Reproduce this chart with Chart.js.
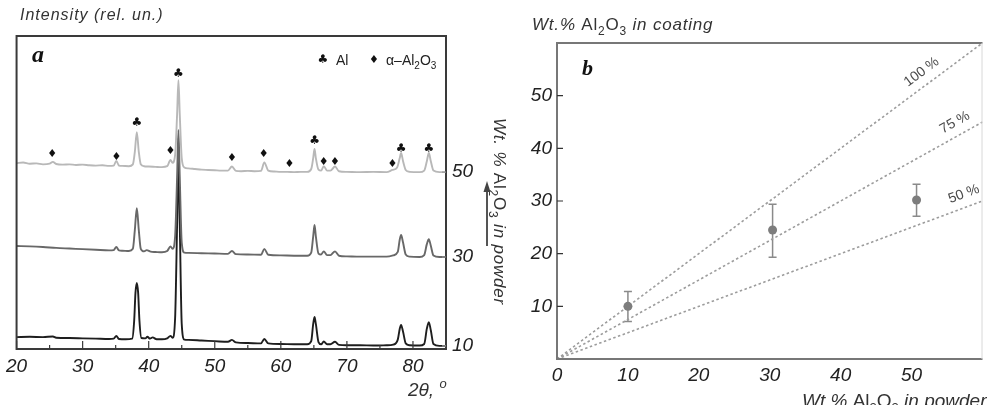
<!DOCTYPE html>
<html>
<head>
<meta charset="utf-8">
<script src="https://cdn.jsdelivr.net/npm/chart.js"></script>
<style>
  body { margin: 0; background: #fff; }
  #wrap { position: relative; width: 987px; height: 405px; overflow: hidden; }
  canvas { position: absolute; top: 0; }
  #chartXrd { left: 0; }
  #chartRatio { left: 505px; }
</style>
</head>
<body>
<div id="wrap">
  <canvas id="chartXrd" width="520" height="405"></canvas>
  <canvas id="chartRatio" width="482" height="405"></canvas>
</div>
<script>
// ---- panel a : XRD patterns (2theta, relative intensity with vertical offset) ----
const xrd50 = [[20,59.4],[21,59.6],[22,59.2],[23,59.3],[24,59.0],[25,59.2],[25.5,59.8],[26,59.1],[27,58.9],[28,59.0],[29,58.8],[30,58.9],[31,58.7],[32,58.6],[33,58.7],[34,58.5],[34.7,58.6],[35.1,60.1],[35.5,58.6],[36,58.5],[37,58.4],[37.6,59],[37.9,63],[38.2,69.3],[38.5,63],[38.8,59],[39.3,58.4],[40,58.3],[41,58.2],[42,58.1],[42.8,58.4],[43.3,60.4],[43.6,59.5],[44.0,62],[44.3,75],[44.5,85.9],[44.7,75],[45.0,61],[45.4,58],[46,57.7],[47,57.5],[48,57.3],[49,57.2],[50,57.1],[51,57.0],[52,57.0],[52.6,58.3],[53.2,56.9],[54,56.8],[55,56.9],[56,56.8],[57,56.9],[57.5,59.6],[58.1,57],[59,56.7],[60,56.6],[61,56.6],[62,56.5],[63,56.6],[64,56.6],[64.6,57.5],[64.9,61],[65.1,63.9],[65.3,61],[65.7,57.3],[66.1,57],[66.5,58.4],[67,57],[67.5,57],[68.2,58.3],[68.8,56.8],[70,56.6],[72,56.5],[74,56.6],[76,56.5],[76.9,57.2],[77.6,58],[78,61],[78.2,62.6],[78.5,60],[78.9,57.2],[79.5,56.6],[81,56.5],[81.7,57],[82.1,60],[82.4,62.6],[82.7,60],[83.1,57],[84,56.5],[85,56.5]];
const xrd30 = [[20,32.9],[22,32.8],[24,32.6],[26,32.3],[28,32.1],[30,31.9],[32,31.7],[34,31.5],[34.7,31.6],[35.1,32.6],[35.5,31.5],[36,31.4],[37,31.3],[37.6,32],[37.9,38],[38.2,45.0],[38.5,38],[38.8,32],[39.3,31.2],[39.7,31.6],[40.3,31.1],[41,31.0],[42,30.9],[42.8,31.3],[43.3,32.8],[43.6,32],[44.0,36],[44.3,55],[44.5,70],[44.7,55],[45.0,34],[45.4,30.8],[46,30.7],[48,30.6],[50,30.5],[52,30.4],[52.6,31.3],[53.2,30.3],[55,30.2],[57,30.1],[57.5,32],[58.1,30.1],[60,29.9],[62,29.8],[64,29.8],[64.6,30.8],[64.9,36],[65.1,39.6],[65.3,36],[65.7,30.5],[66.1,30.2],[66.5,31.2],[67,30],[67.5,30],[68.2,31.2],[68.8,29.8],[70,29.6],[72,29.5],[74,29.5],[76,29.5],[77,29.9],[77.7,31],[78,35],[78.2,36.4],[78.5,34],[78.9,30.2],[79.5,29.5],[81,29.4],[81.7,30],[82.1,33.5],[82.4,35.1],[82.7,33],[83.1,29.9],[84,29.4],[85,29.4]];
const xrd10 = [[20,3.8],[22,3.9],[24,3.8],[25.5,4.0],[26,3.6],[28,3.5],[30,3.4],[32,3.3],[34,3.2],[34.7,3.3],[35.1,4.2],[35.5,3.2],[36.5,3.1],[37.5,3.3],[37.8,9],[38.0,18],[38.2,21.1],[38.4,18],[38.6,9],[38.9,3.5],[39.5,3.4],[39.8,3.9],[40.2,3.3],[40.6,3.7],[41.2,3.1],[42,3.1],[42.8,3.4],[43.3,4.2],[43.6,3.6],[44.0,10],[44.3,40],[44.5,61.0],[44.7,40],[45.0,8],[45.4,3.0],[46,2.9],[48,2.7],[50,2.5],[52,2.3],[52.6,2.9],[53.2,2.1],[55,1.9],[57,1.8],[57.5,3.2],[58.1,1.8],[60,1.6],[62,1.5],[64,1.5],[64.6,2.5],[64.9,8],[65.1,10.2],[65.3,8],[65.7,2.2],[66.1,1.5],[66.5,2.4],[67,1.5],[67.5,1.5],[68.2,2.3],[68.8,1.3],[70,1.2],[72,1.2],[74,1.1],[76,1.2],[77,1.4],[77.7,3],[78,6.5],[78.2,7.7],[78.5,5.5],[78.9,1.8],[79.5,1.2],[81,1.1],[81.7,1.6],[82.1,6.5],[82.4,8.6],[82.7,6],[83.1,1.6],[84,1.0],[85,1.0]];
const xrdTraces = [xrd50, xrd30, xrd10];
const traceLabels = ['50', '30', '10'];
const traceColors = ['#b8b8b8', '#686868', '#1e1e1e'];
const xrdTicks = [20, 30, 40, 50, 60, 70, 80];
const xrdMinorTicks = [25, 35, 45, 55, 65, 75, 85];
// phase markers: [2theta, height]
const alPeaks = [[38.2,72.2],[44.5,87.9],[65.1,66.5],[78.2,63.9],[82.4,63.9]];
const aluminaPeaks = [[25.4,62.3],[35.1,61.3],[43.3,63.3],[52.6,61.0],[57.4,62.3],[61.3,59.1],[66.5,59.7],[68.2,59.7],[76.9,59.1]];

// ---- panel b : Al2O3 content in coating vs powder ----
const powderPct = [10, 30.4, 50.7];
const coatingPct = [10, 24.5, 30.2];
const errLow = [7.1, 19.3, 27.1];
const errHigh = [12.8, 29.4, 33.2];
const line100 = [[0, 0], [60, 60]];
const line75 = [[0, 0], [60, 45]];
const line50 = [[0, 0], [60, 30]];
const lineNames = ['100 %', '75 %', '50 %'];
const lineLabelAt = [52.5, 57, 58];
const ratioXTicks = [0, 10, 20, 30, 40, 50];
const ratioYTicks = [10, 20, 30, 40, 50];

const FONT = '"Liberation Sans", "DejaVu Sans", sans-serif';

// draws text made of parts (italic / subscript / superscript)
function richText(ctx, parts, x, y, size, spacing) {
  let cx = x;
  ctx.letterSpacing = (spacing || 0) + 'px';
  parts.forEach(p => {
    const s = (p.sub || p.sup) ? Math.round(size * 0.68) : size;
    ctx.font = (p.it ? 'italic ' : '') + s + 'px ' + FONT;
    let dy = 0;
    if (p.sub) dy = size * 0.28;
    if (p.sup) dy = -size * 0.42;
    ctx.fillText(p.t, cx, y + dy);
    cx += ctx.measureText(p.t).width;
  });
  ctx.letterSpacing = '0px';
}

const xrdDecor = {
  id: 'xrdDecor',
  afterDraw(chart) {
    const { ctx, chartArea: a, scales: { x, y } } = chart;
    ctx.save();
    // frame
    ctx.strokeStyle = '#3a3a3a';
    ctx.lineWidth = 2;
    ctx.strokeRect(a.left, a.top, a.right - a.left, a.bottom - a.top);
    // inward ticks
    ctx.lineWidth = 1.2;
    ctx.beginPath();
    xrdTicks.forEach(v => { const px = x.getPixelForValue(v); ctx.moveTo(px, a.bottom); ctx.lineTo(px, a.bottom - 8); });
    xrdMinorTicks.forEach(v => { const px = x.getPixelForValue(v); ctx.moveTo(px, a.bottom); ctx.lineTo(px, a.bottom - 4); });
    ctx.stroke();
    ctx.strokeStyle = '#999';
    ctx.beginPath();
    xrdTraces.forEach(t => { const py = y.getPixelForValue(t[t.length - 1][1]); ctx.moveTo(a.right, py); ctx.lineTo(a.right - 4, py); });
    ctx.stroke();

    // phase markers
    ctx.fillStyle = '#111';
    ctx.textAlign = 'center';
    ctx.textBaseline = 'middle';
    ctx.font = '12px "DejaVu Sans"';
    alPeaks.forEach(([v, h]) => ctx.fillText('\u2663', x.getPixelForValue(v), y.getPixelForValue(h)));
    ctx.font = '11px "DejaVu Sans"';
    aluminaPeaks.forEach(([v, h]) => ctx.fillText('\u2666', x.getPixelForValue(v), y.getPixelForValue(h)));

    // legend
    ctx.font = '12px "DejaVu Sans"';
    ctx.fillText('\u2663', 323, 60);
    ctx.font = '11px "DejaVu Sans"';
    ctx.fillText('\u2666', 374, 60);
    ctx.textAlign = 'left';
    ctx.textBaseline = 'alphabetic';
    ctx.fillStyle = '#222';
    richText(ctx, [{ t: 'Al' }], 336, 65, 14);
    richText(ctx, [{ t: '\u03b1\u2013Al' }, { t: '2', sub: 1 }, { t: 'O' }, { t: '3', sub: 1 }], 386, 65, 14);

    // panel letter
    ctx.fillStyle = '#111';
    ctx.font = 'bold italic 24px "Liberation Serif"';
    ctx.fillText('a', 32, 62);

    // titles
    ctx.fillStyle = '#333';
    richText(ctx, [{ t: 'Intensity (rel. un.)', it: 1 }], 20, 20, 16, 1);
    richText(ctx, [{ t: '2\u03b8, ', it: 1 }, { t: 'o', it: 1, sup: 1 }], 408, 396, 19);

    // right vertical title + arrow
    ctx.save();
    ctx.translate(494, 118);
    ctx.rotate(Math.PI / 2);
    richText(ctx, [{ t: 'Wt. % ', it: 1 }, { t: 'Al' }, { t: '2', sub: 1 }, { t: 'O' }, { t: '3', sub: 1 }, { t: ' in powder', it: 1 }], 0, 0, 17, 0.8);
    ctx.restore();
    ctx.strokeStyle = '#555';
    ctx.fillStyle = '#444';
    ctx.lineWidth = 2;
    ctx.beginPath();
    ctx.moveTo(487, 246);
    ctx.lineTo(487, 190);
    ctx.stroke();
    ctx.beginPath();
    ctx.moveTo(487, 181);
    ctx.lineTo(483.5, 192);
    ctx.lineTo(490.5, 192);
    ctx.closePath();
    ctx.fill();
    ctx.restore();
  }
};

new Chart(document.getElementById('chartXrd'), {
  type: 'line',
  data: {
    datasets: xrdTraces.map((t, i) => ({
      label: traceLabels[i],
      data: t,
      borderColor: traceColors[i],
      borderWidth: 1.9,
      pointRadius: 0,
      cubicInterpolationMode: 'monotone'
    }))
  },
  options: {
    responsive: false,
    animation: false,
    layout: { padding: { left: 16, top: 36, right: 0, bottom: 0 } },
    plugins: { legend: { display: false }, tooltip: { enabled: false } },
    scales: {
      x: {
        type: 'linear',
        min: 20,
        max: 85,
        afterBuildTicks: axis => { axis.ticks = xrdTicks.map(v => ({ value: v })); },
        afterFit: s => { s.height = 56; },
        grid: { display: false, drawTicks: false },
        border: { display: false },
        ticks: { padding: 6, color: '#222', font: { family: 'Liberation Sans', size: 19, style: 'italic' } }
      },
      y: {
        type: 'linear',
        position: 'right',
        min: 0,
        max: 100,
        afterBuildTicks: axis => { axis.ticks = xrdTraces.map(t => ({ value: t[t.length - 1][1] })); },
        afterFit: s => { s.width = 74; },
        grid: { display: false, drawTicks: false },
        border: { display: false },
        ticks: {
          padding: 6,
          autoSkip: false,
          color: '#222',
          font: { family: 'Liberation Sans', size: 19, style: 'italic' },
          callback: (v, i) => traceLabels[i]
        }
      }
    }
  },
  plugins: [xrdDecor]
});

const ratioDecor = {
  id: 'ratioDecor',
  beforeDatasetsDraw(chart) {
    const { ctx, scales: { x, y } } = chart;
    ctx.save();
    ctx.strokeStyle = '#8a8a8a';
    ctx.lineWidth = 1.5;
    ctx.beginPath();
    powderPct.forEach((v, i) => {
      const px = x.getPixelForValue(v);
      const lo = y.getPixelForValue(errLow[i]);
      const hi = y.getPixelForValue(errHigh[i]);
      ctx.moveTo(px, lo); ctx.lineTo(px, hi);
      ctx.moveTo(px - 4, lo); ctx.lineTo(px + 4, lo);
      ctx.moveTo(px - 4, hi); ctx.lineTo(px + 4, hi);
    });
    ctx.stroke();
    ctx.restore();
  },
  afterDraw(chart) {
    const { ctx, chartArea: a, scales: { x, y } } = chart;
    ctx.save();
    // frame
    ctx.strokeStyle = '#777';
    ctx.lineWidth = 2;
    ctx.beginPath();
    ctx.moveTo(a.right, a.top);
    ctx.lineTo(a.left, a.top);
    ctx.lineTo(a.left, a.bottom);
    ctx.lineTo(a.right, a.bottom);
    ctx.stroke();
    ctx.strokeStyle = '#d8d8d8';
    ctx.lineWidth = 1;
    ctx.beginPath();
    ctx.moveTo(a.right - 0.5, a.top);
    ctx.lineTo(a.right - 0.5, a.bottom);
    ctx.stroke();
    // y ticks (inward)
    ctx.strokeStyle = '#333';
    ctx.lineWidth = 1.2;
    ctx.beginPath();
    ratioYTicks.forEach(v => { const py = y.getPixelForValue(v); ctx.moveTo(a.left, py); ctx.lineTo(a.left + 6, py); });
    ctx.stroke();

    // labels along the dashed lines
    ctx.fillStyle = '#4a4a4a';
    ctx.font = '14px ' + FONT;
    ctx.textAlign = 'center';
    ctx.textBaseline = 'middle';
    [line100, line75, line50].forEach((ln, i) => {
      const x0 = x.getPixelForValue(ln[0][0]), y0 = y.getPixelForValue(ln[0][1]);
      const x1 = x.getPixelForValue(ln[1][0]), y1 = y.getPixelForValue(ln[1][1]);
      const ang = Math.atan2(y1 - y0, x1 - x0);
      const t = (lineLabelAt[i] - ln[0][0]) / (ln[1][0] - ln[0][0]);
      const px = x0 + (x1 - x0) * t + Math.sin(ang) * 13;
      const py = y0 + (y1 - y0) * t - Math.cos(ang) * 13;
      ctx.save();
      ctx.translate(px, py);
      ctx.rotate(ang);
      ctx.fillText(lineNames[i], 0, 0);
      ctx.restore();
    });

    // panel letter and titles
    ctx.textAlign = 'left';
    ctx.textBaseline = 'alphabetic';
    ctx.fillStyle = '#111';
    ctx.font = 'bold italic 22px "Liberation Serif"';
    ctx.fillText('b', 77, 75);
    ctx.fillStyle = '#333';
    richText(ctx, [{ t: 'Wt.% ', it: 1 }, { t: 'Al' }, { t: '2', sub: 1 }, { t: 'O' }, { t: '3', sub: 1 }, { t: ' in coating', it: 1 }], 27, 30, 17, 0.8);
    richText(ctx, [{ t: 'Wt.% ', it: 1 }, { t: 'Al' }, { t: '2', sub: 1 }, { t: 'O' }, { t: '3', sub: 1 }, { t: ' in powder', it: 1 }], 297, 407, 19);
    ctx.restore();
  }
};

const toXY = arr => arr.map(p => ({ x: p[0], y: p[1] }));
const dashed = (name, arr) => ({
  type: 'line',
  label: name,
  data: toXY(arr),
  showLine: true,
  borderColor: '#9c9c9c',
  borderWidth: 1.6,
  borderDash: [2.5, 2.5],
  pointRadius: 0
});

new Chart(document.getElementById('chartRatio'), {
  type: 'scatter',
  data: {
    datasets: [
      {
        label: 'coating',
        data: powderPct.map((v, i) => ({ x: v, y: coatingPct[i] })),
        backgroundColor: '#7d7d7d',
        borderWidth: 0,
        pointRadius: 4.5
      },
      dashed(lineNames[0], line100),
      dashed(lineNames[1], line75),
      dashed(lineNames[2], line50)
    ]
  },
  options: {
    responsive: false,
    animation: false,
    layout: { padding: { left: 0, top: 43, right: 1, bottom: 0 } },
    plugins: { legend: { display: false }, tooltip: { enabled: false } },
    scales: {
      x: {
        type: 'linear',
        min: 0,
        max: 60,
        afterBuildTicks: axis => { axis.ticks = ratioXTicks.map(v => ({ value: v })); },
        afterFit: s => { s.height = 46; },
        grid: { display: false, drawTicks: false },
        border: { display: false },
        ticks: { padding: 5, color: '#222', font: { family: 'Liberation Sans', size: 19, style: 'italic' } }
      },
      y: {
        type: 'linear',
        min: 0,
        max: 60,
        afterBuildTicks: axis => { axis.ticks = ratioYTicks.map(v => ({ value: v })); },
        afterFit: s => { s.width = 52; },
        grid: { display: false, drawTicks: false },
        border: { display: false },
        ticks: { padding: 5, color: '#222', font: { family: 'Liberation Sans', size: 19, style: 'italic' } }
      }
    }
  },
  plugins: [ratioDecor]
});
</script>
</body>
</html>
